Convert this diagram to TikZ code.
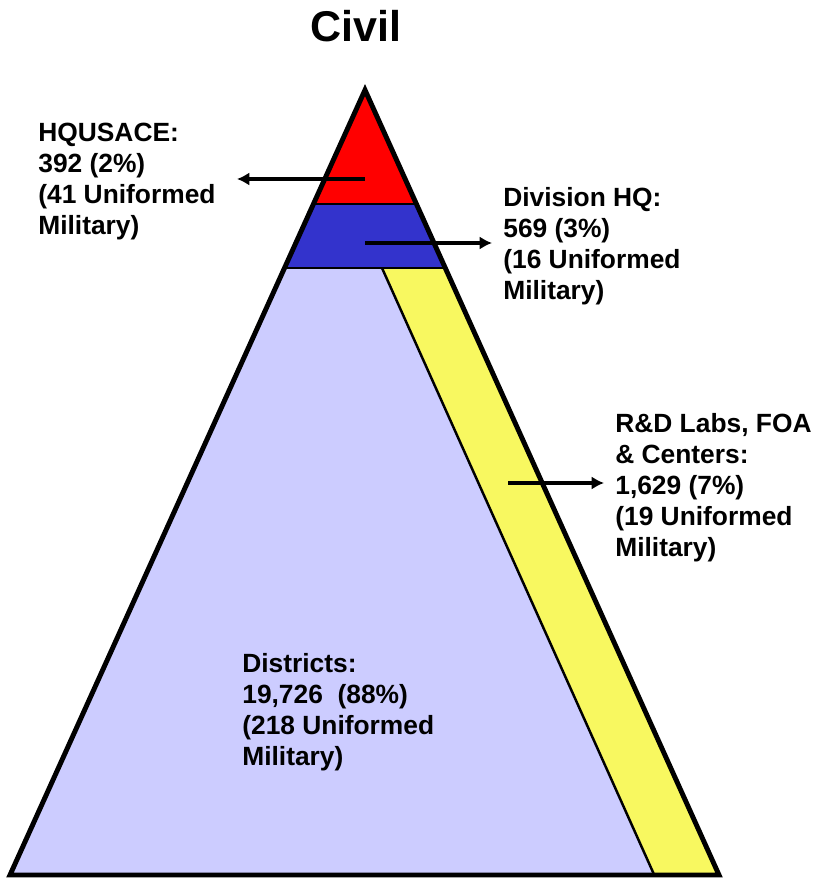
\documentclass[tikz,border=0pt]{standalone}
\usepackage{fontspec}
\setmainfont{Liberation Sans}
\usetikzlibrary{arrows.meta}
\definecolor{hqred}{RGB}{255,0,0}
\definecolor{divblue}{RGB}{51,51,204}
\definecolor{distlav}{RGB}{204,204,255}
\definecolor{labyellow}{RGB}{248,248,96}
\tikzset{
  lbl/.style={anchor=north west, inner sep=0pt, align=left, font=\fontsize{15pt}{17.6pt}\selectfont\bfseries},
  ptr/.style={-{Latex[length=7pt,width=7.5pt]}, line width=2.1pt}
}

\begin{document}
\begin{tikzpicture}[x=0.02cm, y=-0.02cm]
      \useasboundingbox (0,0) rectangle (814,878);
      \coordinate (apex) at (365,90);
      \coordinate (bl) at (10,875);
      \coordinate (br) at (719,875);
      \begin{scope}
        \clip (apex) -- (bl) -- (br) -- cycle;
        \fill[hqred] (0,80) rectangle (814,204);
        \fill[divblue] (0,204) rectangle (814,268);
        \fill[distlav] (0,268) rectangle (814,880);
        \fill[labyellow] (382,268) -- (814,268) -- (814,880) -- (656.5,880) -- cycle;
        \draw[line width=1.7pt] (0,204) -- (814,204);
        \draw[line width=1.7pt] (0,268) -- (814,268);
        \draw[line width=1.4pt] (382,268) -- (656.5,880);
      \end{scope}
      \draw[line width=2.8pt, line join=miter] (apex) -- (bl) -- (br) -- cycle;
      \node[anchor=north, inner sep=0pt, font=\fontsize{24.5pt}{28pt}\selectfont\bfseries] at (356,10) (title){Civil};
      \node[lbl] at (38,123) (hq){HQUSACE:\\392 (2\%)\\(41 Uniformed\\Military)};
      \node[lbl] at (503,187) (div){Division HQ:\\569 (3\%)\\(16 Uniformed\\Military)};
      \node[lbl] at (615,413) (labs){R\&D Labs, FOA\\\& Centers:\\1,629 (7\%)\\(19 Uniformed\\Military)};
      \node[lbl] at (242,653) (dist){Districts:\\19,726~~(88\%)\\(218 Uniformed\\Military)};
      \coordinate (hqfrom) at (365,179);
      \coordinate (hqto) at (237,179);
      \coordinate (divfrom) at (365,243);
      \coordinate (divto) at (492,243);
      \coordinate (labsfrom) at (508,483);
      \coordinate (labsto) at (604,483);
      \draw[ptr] (hqfrom) -- (hqto);
      \draw[ptr] (divfrom) -- (divto);
      \draw[ptr] (labsfrom) -- (labsto);
    \end{tikzpicture}
\end{document}
